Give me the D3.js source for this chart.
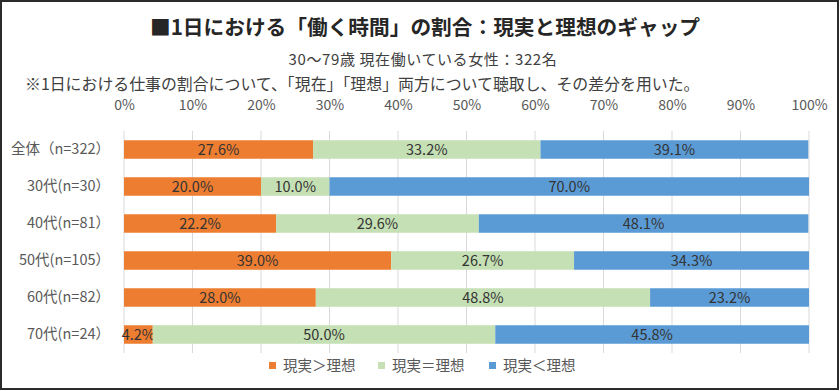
<!DOCTYPE html>
<html>
<head>
<meta charset="utf-8">
<script src="https://cdn.jsdelivr.net/npm/d3@7"></script>
<style>
  body { margin: 0; background: #fff; }
  svg text { font-family: "Noto Sans CJK JP", "Noto Sans", sans-serif; }
</style>
</head>
<body>
<svg id="chart" width="840" height="391"></svg>
<script>
// data
categories = ["全体（n=322）", "30代(n=30）", "40代(n=81）", "50代(n=105）", "60代(n=82）", "70代(n=24）"];
seriesNames = ["現実＞理想", "現実＝理想", "現実＜理想"];
overIdeal = [27.6, 20.0, 22.2, 39.0, 28.0, 4.2];
equalIdeal = [33.2, 10.0, 29.6, 26.7, 48.8, 50.0];
underIdeal = [39.1, 70.0, 48.1, 34.3, 23.2, 45.8];
tickValues = [0, 10, 20, 30, 40, 50, 60, 70, 80, 90, 100];
colors = ["#ED7D31", "#C5E0B4", "#5B9BD5"];

let svg = d3.select("#chart");

// frame
svg.append("rect")
    .attr("x", 1).attr("y", 1)
    .attr("width", 837).attr("height", 388)
    .attr("fill", "#fff")
    .attr("stroke", "#2b2b2b")
    .attr("stroke-width", 2);

// titles
svg.append("text")
    .attr("x", 425).attr("y", 35)
    .attr("text-anchor", "middle")
    .style("font-size", "20.7px")
    .style("font-weight", "bold")
    .attr("fill", "#262626")
    .text("■1日における「働く時間」の割合：現実と理想のギャップ");
svg.append("text")
    .attr("x", 423).attr("y", 65)
    .attr("text-anchor", "middle")
    .style("font-size", "15px")
    .style("letter-spacing", "0.6px")
    .attr("fill", "#404040")
    .text("30〜79歳 現在働いている女性：322名");
svg.append("text")
    .attr("x", 25).attr("y", 90)
    .style("font-size", "15.9px")
    .attr("fill", "#404040")
    .text("※1日における仕事の割合について、「現在」「理想」両方について聴取し、その差分を用いた。");

let x = d3.scaleLinear()
    .domain([0, 100])
    .range([124, 809]);

let y = d3.scaleBand()
    .domain(categories)
    .range([131, 353])
    .paddingInner(0.5)
    .paddingOuter(0.25);

// grid
svg.append("g")
    .selectAll("line")
    .data(tickValues)
    .join("line")
    .attr("x1", d => x(d)).attr("x2", d => x(d))
    .attr("y1", 131).attr("y2", 353)
    .attr("stroke", "#d9d9d9")
    .attr("stroke-width", 1);

// top axis
let xAxis = d3.axisTop(x)
    .tickValues(tickValues)
    .tickSize(0)
    .tickPadding(21)
    .tickFormat(d => d + "%");
let axisG = svg.append("g")
    .attr("transform", "translate(0,131)")
    .call(xAxis);
axisG.select(".domain").remove();
axisG.selectAll("text")
    .style("font-size", "14px")
    .style("font-family", "\"Noto Sans CJK JP\", sans-serif")
    .attr("fill", "#595959");

// left axis
let yAxis = d3.axisLeft(y).tickSize(0).tickPadding(14);
let yG = svg.append("g")
    .attr("transform", "translate(124,0)")
    .call(yAxis);
yG.select(".domain").remove();
yG.selectAll("text")
    .style("font-size", "14.5px")
    .style("font-family", "\"Noto Sans CJK JP\", sans-serif")
    .attr("fill", "#595959");

// stacked bars
let rows = categories.map((c, i) => ({
    cat: c, s0: overIdeal[i], s1: equalIdeal[i], s2: underIdeal[i]
}));
let stack = d3.stack().keys(["s0", "s1", "s2"]);
let layers = stack(rows);

let layerG = svg.append("g")
    .selectAll("g")
    .data(layers)
    .join("g")
    .attr("fill", (d, i) => colors[i]);

layerG.selectAll("rect")
    .data(d => d)
    .join("rect")
    .attr("x", d => x(d[0]))
    .attr("y", d => y(d.data.cat))
    .attr("width", d => x(d[1]) - x(d[0]))
    .attr("height", y.bandwidth());

layerG.selectAll("text")
    .data(d => d)
    .join("text")
    .attr("x", d => (x(d[0]) + x(d[1])) / 2)
    .attr("y", d => y(d.data.cat) + y.bandwidth() / 2)
    .attr("dy", "0.36em")
    .attr("text-anchor", "middle")
    .style("font-size", "14.5px")
    .attr("fill", "#333")
    .text(d => (d[1] - d[0]).toFixed(1) + "%");

// legend
let legendX = [269, 378, 489];
let legend = svg.append("g")
    .selectAll("g")
    .data(seriesNames)
    .join("g")
    .attr("transform", (d, i) => "translate(" + legendX[i] + ",362)");
legend.append("rect")
    .attr("width", 7).attr("height", 7)
    .attr("fill", (d, i) => colors[i]);
legend.append("text")
    .attr("x", 14).attr("y", 4)
    .attr("dy", "0.36em")
    .style("font-size", "14.5px")
    .attr("fill", "#595959")
    .text(d => d);
</script>
</body>
</html>
